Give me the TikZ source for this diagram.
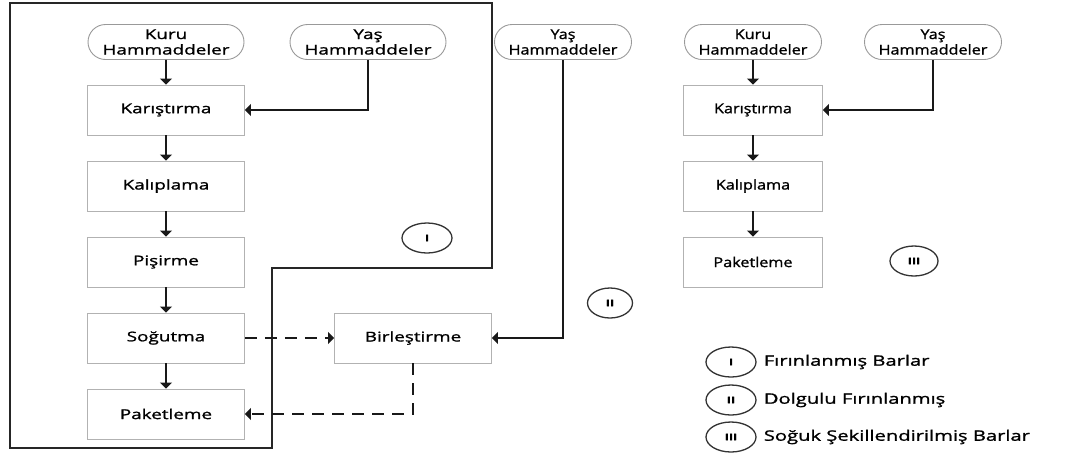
\documentclass[tikz,border=0pt]{standalone}
\usepackage{fontspec}
\setmainfont{Open Sans}[FakeStretch=1.4, FakeBold=1.3]
\newfontfamily\narrowfont{Open Sans}[FakeStretch=1.2, FakeBold=1.3]
\usetikzlibrary{arrows.meta, shapes.geometric, shapes.misc, positioning}

\tikzset{
  proc/.style={draw=black!30, line width=0.9pt, minimum width=157pt, minimum height=50pt,
    inner sep=2pt, font=\fontsize{13.5}{15}\selectfont},
  raw/.style={rounded rectangle, draw=black!40, line width=0.9pt, minimum width=158pt,
    minimum height=35pt, inner sep=1pt, align=center, font=\fontsize{13.5}{15.5}\selectfont},
  narrow/.style={minimum width=139pt, font=\narrowfont\fontsize{13.5}{15.5}\selectfont},
  tag/.style={ellipse, draw=black!80, line width=1.3pt, minimum width=50pt, minimum height=30pt,
    inner sep=0pt, font=\bfseries\fontsize{9}{9}\selectfont},
  legtext/.style={font=\fontsize{14.4}{16}\selectfont, inner sep=0pt},
  flow/.style={draw=black!90, line width=1.8pt, -{Triangle[length=6pt, width=12pt]}},
  joinflow/.style={flow, dash pattern=on 12pt off 8pt},
}

\begin{document}
\begin{tikzpicture}[x=1pt, y=-1pt]
\useasboundingbox (0,0) rectangle (1074,459);

% I -- firinlanmis barlar
\draw[black!85, line width=2.2pt] (10,3) -- (492,3) -- (492,268) -- (272,268) -- (272,448) -- (10,448) -- cycle;
\node[raw] (kuruA) at (166,42) {Kuru\\Hammaddeler};
\node[raw] (yasA) at (368,42) {Yaş\\Hammaddeler};
\node[proc] (karA) at (166,110) {Karıştırma};
\node[proc] (kalA) at (166,186) {Kalıplama};
\node[proc] (pisA) at (166,262) {Pişirme};
\node[proc] (sogA) at (166,338) {Soğutma};
\node[proc] (pakA) at (166,414) {Paketleme};
\node[tag] (tagI) at (427,238) {I};

\draw[flow] (kuruA) -- (karA);
\draw[flow] (yasA) |- (karA);
\draw[flow] (karA) -- (kalA);
\draw[flow] (kalA) -- (pisA);
\draw[flow] (pisA) -- (sogA);
\draw[flow] (sogA) -- (pakA);

% II -- dolgulu
\node[proc] (birB) at (413,338) {Birleştirme};
\node[raw, narrow] (yasB) at (563,42) {Yaş\\Hammaddeler};
\node[tag, minimum width=45pt] (tagII) at (610,303) {II};

\draw[joinflow] (sogA) -- (birB);
\draw[joinflow] (birB) |- (pakA);
\draw[flow] (yasB) |- (birB);

% III -- soguk sekillendirilmis
\node[raw, narrow] (kuruC) at (753,42) {Kuru\\Hammaddeler};
\node[raw, narrow] (yasC) at (933,42) {Yaş\\Hammaddeler};
\node[proc, narrow] (karC) at (753,110) {Karıştırma};
\node[proc, narrow] (kalC) at (753,186) {Kalıplama};
\node[proc, narrow] (pakC) at (753,262) {Paketleme};
\node[tag, minimum width=48pt] (tagIII) at (914,261) {III};

\draw[flow] (kuruC) -- (karC);
\draw[flow] (yasC) |- (karC);
\draw[flow] (karC) -- (kalC);
\draw[flow] (kalC) -- (pakC);

% legend
\node[tag] (lgI) at (731,362) {I};
\node[tag] (lgII) at (731,400) {II};
\node[tag] (lgIII) at (731,437) {III};
\node[legtext, right=7pt of lgI] {Fırınlanmış Barlar};
\node[legtext, right=7pt of lgII] {Dolgulu Fırınlanmış};
\node[legtext, right=7pt of lgIII] {Soğuk Şekillendirilmiş Barlar};
\end{tikzpicture}
\end{document}
